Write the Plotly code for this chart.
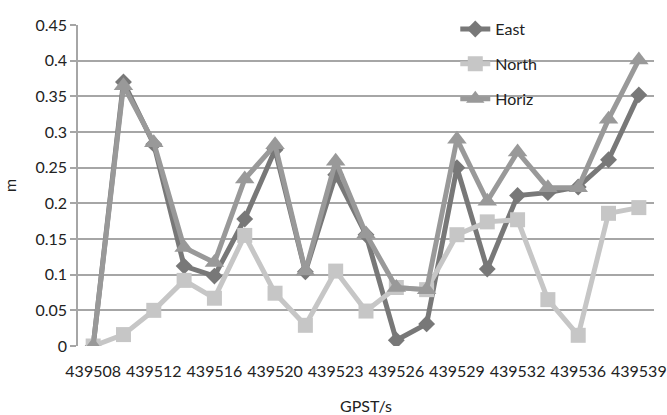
import plotly.graph_objects as go

# GPS time stamps (seconds of week); every other one is labelled on the axis
gpst = ["439508", "439510", "439512", "439514", "439516", "439518", "439520",
        "439522", "439523", "439525", "439526", "439528", "439529", "439531",
        "439532", "439534", "439536", "439538", "439539"]
tick_labels = ["439508", "439512", "439516", "439520", "439523",
               "439526", "439529", "439532", "439536", "439539"]

# Position errors in metres
east = [0.0, 0.370, 0.283, 0.112, 0.098, 0.178, 0.275, 0.104, 0.240, 0.156,
        0.008, 0.031, 0.250, 0.108, 0.211, 0.215, 0.223, 0.261, 0.352]
north = [0.0, 0.016, 0.050, 0.092, 0.067, 0.155, 0.074, 0.029, 0.105, 0.049,
         0.082, 0.079, 0.156, 0.174, 0.177, 0.065, 0.015, 0.186, 0.194]
horiz = [0.0, 0.365, 0.285, 0.138, 0.117, 0.234, 0.282, 0.105, 0.259, 0.157,
         0.082, 0.079, 0.290, 0.203, 0.272, 0.222, 0.222, 0.318, 0.401]

FONT = "Lato"
FS = 16
series = [
    ("East", east, "#787878", "diamond", 13),
    ("North", north, "#c6c6c6", "square", 15),
    ("Horiz", horiz, "#999999", "triangle-up", 17),
]

fig = go.Figure()
for name, vals, color, symbol, size in series:
    fig.add_trace(go.Scatter(
        x=gpst, y=vals, name=name, mode="lines+markers",
        line=dict(color=color, width=5),
        marker=dict(symbol=symbol, size=size, color=color),
        legendgroup=name,
    ))

fig.update_layout(
    width=667, height=415,
    margin=dict(l=78, r=13, t=17, b=69),
    paper_bgcolor="white", plot_bgcolor="white",
    font=dict(family=FONT, size=FS, color="#222222"),
    showlegend=True,
    legend=dict(x=0.655, y=1.04, xanchor="left", yanchor="top",
                bgcolor="rgba(0,0,0,0)", tracegroupgap=11,
                font=dict(family=FONT, size=FS, color="#222222")),
    xaxis=dict(
        type="category", range=[-0.5, len(gpst) - 0.5],
        tickmode="array", tickvals=tick_labels, ticktext=tick_labels,
        showgrid=False, showline=False, ticks="",
        ticklabelstandoff=14, automargin=False,
        title=dict(text="GPST/s", font=dict(family=FONT, size=FS), standoff=21),
        tickfont=dict(family=FONT, size=FS),
    ),
    yaxis=dict(
        range=[0, 0.45], dtick=0.05, tickformat="~g",
        showgrid=True, gridcolor="#a6a6a6", gridwidth=1.5,
        showline=True, linecolor="#a6a6a6", linewidth=1.5,
        ticks="outside", ticklen=6, tickcolor="#a6a6a6", tickwidth=1.5,
        zeroline=False, automargin=False,
        title=dict(text="m", font=dict(family=FONT, size=FS), standoff=16),
        tickfont=dict(family=FONT, size=FS),
    ),
)

fig.write_html("out.html")
